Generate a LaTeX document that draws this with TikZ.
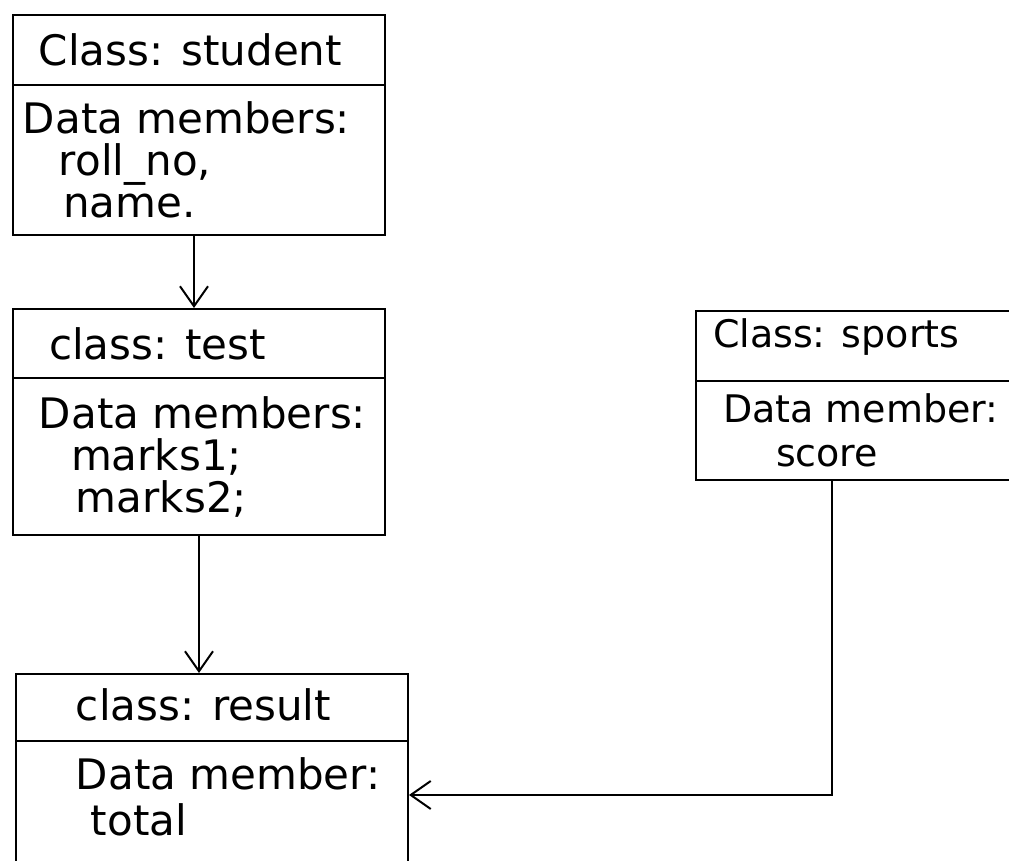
\documentclass[tikz,border=0pt]{standalone}
\usepackage{fontspec}
\setmainfont{DejaVu Sans}
\usetikzlibrary{shapes.multipart}
\usetikzlibrary{arrows.meta}

\tikzset{
  classbox/.style={draw, line width=1pt,
    rectangle split, rectangle split parts=2,
    inner sep=0pt, anchor=north west,
    font=\fontsize{21}{21}\selectfont},
  inherit/.style={line width=1pt,
    -{Straight Barb[length=10pt,width=14pt]}}
}
\newcommand{\partbox}[3]{\parbox[c][#1][c]{#2}{#3}}

\begin{document}
\begin{tikzpicture}[x=0.5pt,y=-0.5pt]
\clip (0,0) rectangle (1009,861);
\fill[white] (0,0) rectangle (1009,861);

\node[classbox] (student) at (12,14)
  {\partbox{34pt}{186pt}{\hspace*{13pt}Class: student}
     \nodepart{two} \partbox{74pt}{186pt}{\hspace*{5pt}Data members:\\
       \hspace*{23pt}roll\_no,\\
       \hspace*{25pt}name.}};
\node[classbox] (test) at (12,308)
  {\partbox{33.5pt}{186pt}{\hspace*{18pt}class: test}
     \nodepart{two} \partbox{77.5pt}{186pt}{\hspace*{13pt}Data members:\\
       \hspace*{29pt}marks1;\\
       \hspace*{31.5pt}marks2;}};
\node[classbox, font=\fontsize{19}{22}\selectfont] (sports) at (695,310)
  {\partbox{34pt}{165pt}{\hspace*{8.5pt}\raisebox{13pt}{Class: sports}}
     \nodepart{two} \partbox{48.5pt}{165pt}{\hspace*{13.5pt}Data member:\\
       \hspace*{40pt}score}};
\node[classbox] (result) at (15,673)
  {\partbox{32.5pt}{196pt}{\hspace*{30pt}\raisebox{3pt}{class: result}}
     \nodepart{two} \partbox{66pt}{196pt}{\hspace*{30pt}Data member:\\[2pt]
       \hspace*{37.5pt}total\par\vspace*{11pt}}};

\draw[inherit] ([xshift=-2.5pt]student.south) -- ([xshift=-2.5pt]test.north);
\draw[inherit] (test.south) -- (test.south |- result.north);
\draw[inherit] ([xshift=-14.5pt]sports.south) |- ([yshift=-10.25pt]result.east);
\end{tikzpicture}
\end{document}
